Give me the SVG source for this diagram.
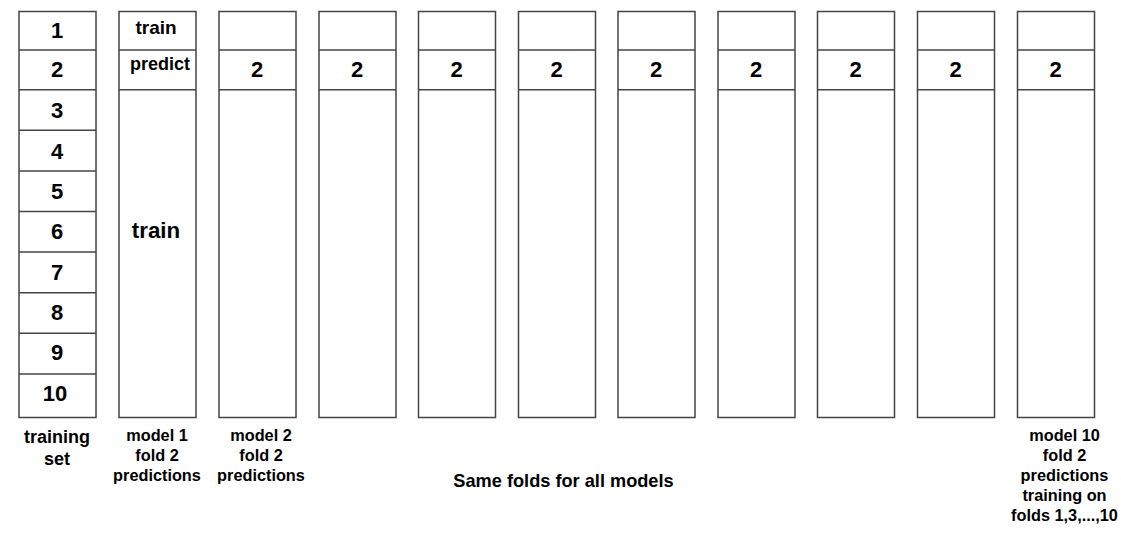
<svg xmlns="http://www.w3.org/2000/svg" width="1121" height="549" viewBox="0 0 1121 549">
<style>
.box{fill:#fff;stroke:#444;stroke-width:1.5}
.ln{stroke:#444;stroke-width:1.5}
text{font-family:"Liberation Sans",Arial,sans-serif;font-weight:bold;fill:#000;text-anchor:middle}
.num{font-size:22px}
.lbl{font-size:16.3px}
</style>
<rect width="1121" height="549" fill="#fff"/>
<g id="training-set">
<rect class="box" x="19" y="11.5" width="77" height="406"/>
<line class="ln" x1="19" y1="50.1" x2="96" y2="50.1"/>
<line class="ln" x1="19" y1="89.7" x2="96" y2="89.7"/>
<line class="ln" x1="19" y1="130.3" x2="96" y2="130.3"/>
<line class="ln" x1="19" y1="170.9" x2="96" y2="170.9"/>
<line class="ln" x1="19" y1="211.5" x2="96" y2="211.5"/>
<line class="ln" x1="19" y1="252.1" x2="96" y2="252.1"/>
<line class="ln" x1="19" y1="292.7" x2="96" y2="292.7"/>
<line class="ln" x1="19" y1="333.3" x2="96" y2="333.3"/>
<line class="ln" x1="19" y1="373.9" x2="96" y2="373.9"/>
<text class="num" x="57" y="38">1</text>
<text class="num" x="57" y="77">2</text>
<text class="num" x="57" y="118">3</text>
<text class="num" x="57" y="159">4</text>
<text class="num" x="57" y="199">5</text>
<text class="num" x="57" y="239">6</text>
<text class="num" x="57" y="280">7</text>
<text class="num" x="57" y="320">8</text>
<text class="num" x="57" y="360">9</text>
<text class="num" x="55" y="401">10</text>
<text style="font-size:18px" x="57" y="443">training</text>
<text style="font-size:18px" x="57" y="465">set</text>
</g>
<g id="model1">
<rect class="box" x="119" y="11.5" width="77" height="406"/>
<line class="ln" x1="119" y1="50.1" x2="196" y2="50.1"/>
<line class="ln" x1="119" y1="89.7" x2="196" y2="89.7"/>
<text style="font-size:19px" x="156" y="33.5">train</text>
<text style="font-size:18px" x="160" y="70">predict</text>
<text style="font-size:22.3px" x="156" y="238">train</text>
<text class="lbl" x="157" y="441">model 1</text>
<text class="lbl" x="157" y="461">fold 2</text>
<text class="lbl" x="157" y="481">predictions</text>
</g>
<g id="model2">
<rect class="box" x="219" y="11.5" width="77" height="406"/>
<line class="ln" x1="219" y1="50.1" x2="296" y2="50.1"/>
<line class="ln" x1="219" y1="89.7" x2="296" y2="89.7"/>
<text class="num" x="257" y="77">2</text>
<text class="lbl" x="261" y="441">model 2</text>
<text class="lbl" x="261" y="461">fold 2</text>
<text class="lbl" x="261" y="481">predictions</text>
</g>
<g id="model3">
<rect class="box" x="319" y="11.5" width="77" height="406"/>
<line class="ln" x1="319" y1="50.1" x2="396" y2="50.1"/>
<line class="ln" x1="319" y1="89.7" x2="396" y2="89.7"/>
<text class="num" x="357" y="77">2</text>
</g>
<g id="model4">
<rect class="box" x="418.5" y="11.5" width="77" height="406"/>
<line class="ln" x1="418.5" y1="50.1" x2="495.5" y2="50.1"/>
<line class="ln" x1="418.5" y1="89.7" x2="495.5" y2="89.7"/>
<text class="num" x="456.5" y="77">2</text>
</g>
<g id="model5">
<rect class="box" x="518.5" y="11.5" width="77" height="406"/>
<line class="ln" x1="518.5" y1="50.1" x2="595.5" y2="50.1"/>
<line class="ln" x1="518.5" y1="89.7" x2="595.5" y2="89.7"/>
<text class="num" x="556.5" y="77">2</text>
</g>
<g id="model6">
<rect class="box" x="618" y="11.5" width="77" height="406"/>
<line class="ln" x1="618" y1="50.1" x2="695" y2="50.1"/>
<line class="ln" x1="618" y1="89.7" x2="695" y2="89.7"/>
<text class="num" x="656" y="77">2</text>
</g>
<g id="model7">
<rect class="box" x="718" y="11.5" width="77" height="406"/>
<line class="ln" x1="718" y1="50.1" x2="795" y2="50.1"/>
<line class="ln" x1="718" y1="89.7" x2="795" y2="89.7"/>
<text class="num" x="756" y="77">2</text>
</g>
<g id="model8">
<rect class="box" x="817.5" y="11.5" width="77" height="406"/>
<line class="ln" x1="817.5" y1="50.1" x2="894.5" y2="50.1"/>
<line class="ln" x1="817.5" y1="89.7" x2="894.5" y2="89.7"/>
<text class="num" x="855.5" y="77">2</text>
</g>
<g id="model9">
<rect class="box" x="917.5" y="11.5" width="77" height="406"/>
<line class="ln" x1="917.5" y1="50.1" x2="994.5" y2="50.1"/>
<line class="ln" x1="917.5" y1="89.7" x2="994.5" y2="89.7"/>
<text class="num" x="955.5" y="77">2</text>
</g>
<g id="model10">
<rect class="box" x="1017.5" y="11.5" width="77" height="406"/>
<line class="ln" x1="1017.5" y1="50.1" x2="1094.5" y2="50.1"/>
<line class="ln" x1="1017.5" y1="89.7" x2="1094.5" y2="89.7"/>
<text class="num" x="1055.5" y="77">2</text>
<text class="lbl" x="1064.5" y="441">model 10</text>
<text class="lbl" x="1064.5" y="461">fold 2</text>
<text class="lbl" x="1064.5" y="481">predictions</text>
<text class="lbl" x="1064.5" y="501">training on</text>
<text class="lbl" x="1064.5" y="521">folds 1,3,...,10</text>
</g>
<g id="connectors"></g>
<text style="font-size:18.2px" x="563.5" y="487">Same folds for all models</text>
</svg>
